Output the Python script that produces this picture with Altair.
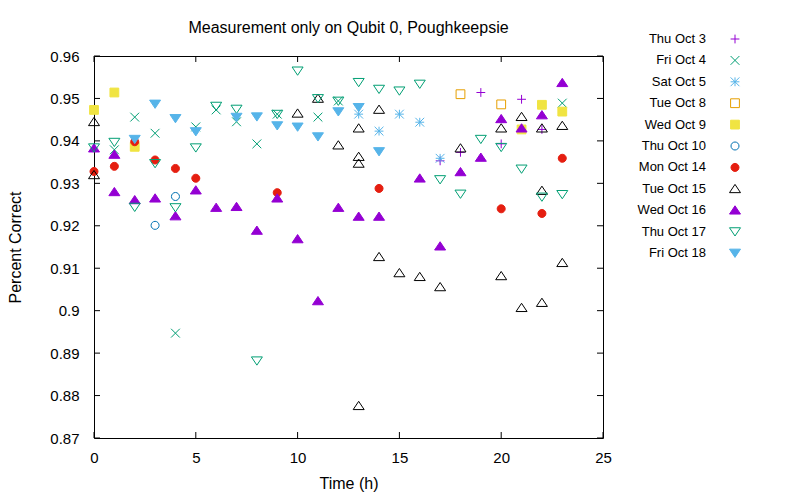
import altair as alt
import pandas as pd

FONT = "Liberation Sans"
FS_LAB = 15
FS_TITLE = 16
FS_LEG = 13

days = ["Thu Oct 3", "Fri Oct 4", "Sat Oct 5", "Tue Oct 8", "Wed Oct 9", "Thu Oct 10",
        "Mon Oct 14", "Tue Oct 15", "Wed Oct 16", "Thu Oct 17", "Fri Oct 18"]

thu_oct3_hours = [17, 18, 19, 20, 21, 22]
thu_oct3_vals = [0.9353, 0.9373, 0.9514, 0.9393, 0.9498, 0.9427]

fri_oct4_hours = [1, 2, 3, 4, 5, 6, 7, 8, 9, 11, 12, 23]
fri_oct4_vals = [0.9379, 0.9456, 0.9418, 0.8947, 0.9433, 0.9473, 0.9445, 0.9393, 0.9463, 0.9456, 0.9494, 0.9489]

sat_oct5_hours = [13, 14, 15, 16, 17]
sat_oct5_vals = [0.9463, 0.9423, 0.9463, 0.9444, 0.9359]

tue_oct8_hours = [18, 20]
tue_oct8_vals = [0.9510, 0.9486]

wed_oct9_hours = [0, 1, 2, 21, 22, 23]
wed_oct9_vals = [0.9473, 0.9514, 0.9386, 0.9427, 0.9485, 0.9469]

thu_oct10_hours = [3, 4]
thu_oct10_vals = [0.9201, 0.9269]

mon_oct14_hours = [0, 1, 2, 3, 4, 5, 9, 14, 20, 22, 23]
mon_oct14_vals = [0.9328, 0.9340, 0.9398, 0.9355, 0.9335, 0.9312, 0.9278, 0.9288, 0.9240, 0.9229, 0.9359]

tue_oct15_hours = [0, 0, 10, 11, 12, 13, 13, 13, 13, 14, 14, 15, 16, 17, 18, 20, 20, 21, 21, 22, 22, 22, 23, 23]
tue_oct15_vals = [0.9445, 0.9320, 0.9465, 0.9500, 0.9390, 0.9430, 0.9363, 0.9347, 0.8776, 0.9474, 0.9127,
                  0.9089, 0.9080, 0.9056, 0.9383, 0.9430, 0.9082, 0.9457, 0.9007, 0.9430, 0.9283, 0.9019,
                  0.9436, 0.9113]

wed_oct16_hours = [0, 1, 1, 2, 3, 4, 5, 6, 7, 8, 9, 10, 11, 12, 13, 14, 16, 17, 18, 19, 20, 21, 22, 23]
wed_oct16_vals = [0.9383, 0.9368, 0.9280, 0.9261, 0.9265, 0.9223, 0.9284, 0.9243, 0.9245, 0.9189, 0.9265,
                  0.9169, 0.9023, 0.9243, 0.9222, 0.9222, 0.9312, 0.9152, 0.9327, 0.9361, 0.9452, 0.9430,
                  0.9461, 0.9537]

thu_oct17_hours = list(range(24))
thu_oct17_vals = [0.9384, 0.9397, 0.9244, 0.9347, 0.9243, 0.9384, 0.9482, 0.9475, 0.8882, 0.9463, 0.9565,
                  0.9500, 0.9494, 0.9538, 0.9522, 0.9518, 0.9534, 0.9309, 0.9275, 0.9404, 0.9385, 0.9334,
                  0.9268, 0.9274]

fri_oct18_hours = [2, 3, 4, 5, 7, 8, 9, 10, 11, 12, 13, 14]
fri_oct18_vals = [0.9404, 0.9487, 0.9453, 0.9422, 0.9456, 0.9457, 0.9436, 0.9433, 0.9410, 0.9469, 0.9479, 0.9375]

x_ticks = [0, 5, 10, 15, 20, 25]
y_ticks = [0.87, 0.88, 0.89, 0.90, 0.91, 0.92, 0.93, 0.94, 0.95, 0.96]

series = [
    (thu_oct3_hours, thu_oct3_vals), (fri_oct4_hours, fri_oct4_vals), (sat_oct5_hours, sat_oct5_vals),
    (tue_oct8_hours, tue_oct8_vals), (wed_oct9_hours, wed_oct9_vals), (thu_oct10_hours, thu_oct10_vals),
    (mon_oct14_hours, mon_oct14_vals), (tue_oct15_hours, tue_oct15_vals), (wed_oct16_hours, wed_oct16_vals),
    (thu_oct17_hours, thu_oct17_vals), (fri_oct18_hours, fri_oct18_vals),
]
rows = []
for d, (hs, vs) in zip(days, series):
    for h, v in zip(hs, vs):
        rows.append({"day": d, "hour": h, "value": v})
df = pd.DataFrame(rows)

# gnuplot-like styles
colors = ["#9400d3", "#009e73", "#56b4e9", "#e69f00", "#f0e442", "#0072b2",
          "#e51e10", "#000000", "#9400d3", "#009e73", "#56b4e9"]
PLUS = "M-0.8,0L0.8,0M0,-0.8L0,0.8"
CROSS = "M-0.8,-0.8L0.8,0.8M-0.8,0.8L0.8,-0.8"
STAR = PLUS + CROSS
SQUARE = "M-0.8,-0.8L0.8,-0.8L0.8,0.8L-0.8,0.8Z"
CIRCLE = "M-0.73,0A0.73,0.73,0,1,0,0.73,0A0.73,0.73,0,1,0,-0.73,0Z"
TRI_UP = "M0,-0.8L1,0.7L-1,0.7Z"
TRI_DOWN = "M0,0.8L1,-0.7L-1,-0.7Z"
shapes = [PLUS, CROSS, STAR, SQUARE, SQUARE, CIRCLE, CIRCLE, TRI_UP, TRI_UP, TRI_DOWN, TRI_DOWN]
filled = [False, False, False, False, True, False, True, False, True, False, True]
fills = [c if f else "transparent" for c, f in zip(colors, filled)]

W, H = 509, 382
xs = alt.Scale(domain=[0, 25], nice=False, zero=False)
ys = alt.Scale(domain=[0.87, 0.96], nice=False, zero=False)
x_axis = alt.Axis(values=x_ticks, title="Time (h)", format="d", labelPadding=12, titlePadding=10,
                  labelFlush=False)

shape_enc = alt.Shape("day:N", scale=alt.Scale(domain=days, range=shapes), legend=None)
stroke_enc = alt.Stroke("day:N", scale=alt.Scale(domain=days, range=colors), legend=None)
fill_enc = alt.Fill("day:N", scale=alt.Scale(domain=days, range=fills), legend=None)

points = alt.Chart(df).mark_point(size=121, opacity=1, strokeWidth=1).encode(
    x=alt.X("hour:Q", scale=xs, axis=x_axis),
    y=alt.Y("value:Q", scale=ys, axis=alt.Axis(values=y_ticks, title="Percent Correct", format=".2~f",
                                                labelPadding=15, titlePadding=26, labelFlush=False)),
    shape=shape_enc, stroke=stroke_enc, fill=fill_enc,
)

ytdf = pd.DataFrame({"v": y_ticks})
xtdf = pd.DataFrame({"v": x_ticks})
tl = alt.Chart(ytdf).mark_rule(color="black", strokeWidth=1).encode(
    y=alt.Y("v:Q", scale=ys, axis=None), x=alt.value(0), x2=alt.value(6))
tr = alt.Chart(ytdf).mark_rule(color="black", strokeWidth=1).encode(
    y=alt.Y("v:Q", scale=ys, axis=None), x=alt.value(W - 6), x2=alt.value(W))
tb = alt.Chart(xtdf).mark_rule(color="black", strokeWidth=1).encode(
    x=alt.X("v:Q", scale=xs, axis=x_axis), y=alt.value(H - 6), y2=alt.value(H))
tt = alt.Chart(xtdf).mark_rule(color="black", strokeWidth=1).encode(
    x=alt.X("v:Q", scale=xs, axis=x_axis), y=alt.value(0), y2=alt.value(6))

legdf = pd.DataFrame({"day": days})
leg_y = alt.Y("day:N", scale=alt.Scale(type="point", domain=days, range=[-17, 197], padding=0), axis=None)
leg_pts = alt.Chart(legdf).mark_point(size=121, opacity=1, strokeWidth=1).encode(
    x=alt.value(641), y=leg_y, shape=shape_enc, stroke=stroke_enc, fill=fill_enc)
leg_txt = alt.Chart(legdf).mark_text(align="right", baseline="middle", font=FONT, fontSize=FS_LEG,
                                     color="black").encode(
    x=alt.value(612), y=leg_y, text="day:N")

chart = alt.layer(points, tl, tr, tb, tt, leg_pts, leg_txt).resolve_scale(y="independent").properties(
    width=W, height=H,
    title=alt.TitleParams("Measurement only on Qubit 0, Poughkeepsie", font=FONT, fontSize=FS_TITLE,
                          fontWeight="normal", anchor="middle", baseline="middle", offset=-11,
                          color="black"),
    padding={"left": 86, "top": 48, "right": 189, "bottom": 54},
    autosize=alt.AutoSizeParams(type="none"),
    background="white",
).configure_view(stroke="black", strokeWidth=1).configure_axis(
    domain=False, ticks=False, tickSize=0, grid=False,
    labelFont=FONT, labelFontSize=FS_LAB, labelColor="black",
    titleFont=FONT, titleFontSize=FS_TITLE, titleFontWeight="normal", titleColor="black",
)

chart.save("out.html", embed_options={"renderer": "svg", "actions": False})
